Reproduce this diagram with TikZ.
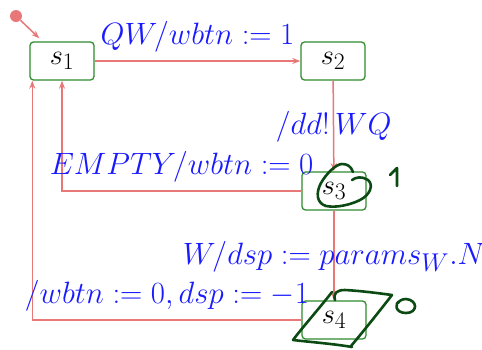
\documentclass[tikz,border=0pt]{standalone}
\usetikzlibrary{arrows.meta,calc}
\definecolor{edgered}{HTML}{E87878}
\definecolor{lblblue}{HTML}{1A1AFF}
\definecolor{boxgreen}{HTML}{2E8B2E}
\definecolor{inkgreen}{HTML}{0B4A12}
\begin{document}
\begin{tikzpicture}[x=1pt,y=-1pt,
  statebox/.style={draw=boxgreen,line width=1.3pt,rounded corners=3.5pt,scale=1.14,transform shape,minimum width=56.1pt,minimum height=33.3pt,inner sep=0pt,font=\fontsize{24.88}{28}\selectfont},
  edge/.style={draw=edgered,line width=1.5pt,-{Stealth[length=8pt,width=6pt]}},
  lbl/.style={text=lblblue,font=\fontsize{24.88}{28}\selectfont,scale=1.24,transform shape,inner sep=0pt,anchor=base},
  hlbl/.style={lbl,yshift=13pt},
  vlbl/.style={lbl,yshift=-7pt},
  ink/.style={draw=inkgreen,line width=2.6pt,line cap=round,line join=round}]
\useasboundingbox (0,0) rectangle (482,349);
\node[statebox] (s1) at (62,61) {$s_1$};
\node[statebox] (s2) at (333,61) {$s_2$};
\node[statebox] (s3) at (334,191) {$s_3$};
\node[statebox] (s4) at (334,320) {$s_4$};
\node[circle,fill=edgered,inner sep=0pt,minimum size=12pt] (init) at (16,16) {};
\coordinate (s1in) at ($(s1.north west)+(10,-3)$);
\draw[edge] (init) -- (s1in);
\draw[edge] (s1) -- node[hlbl] {$QW/wbtn := 1$} (s2);
\draw[edge] (s2) -- node[vlbl] {$/dd!\,WQ$} (s3);
\draw[edge] (s3.west) -| node[hlbl,pos=0.25] {$EMPTY/wbtn := 0$} (s1.south);
\draw[edge] (s3) -- node[vlbl] {$W/dsp := params_W.N$} (s4);
\coordinate (s1l) at ($(s1.south west)+(3,0)$);
\draw[edge] (s4.west) -| node[hlbl,pos=0.25] {$/wbtn := 0, dsp := -1$} (s1l);
% hand-drawn marks
\draw[ink] (353,172) .. controls (351,166) and (347,164) .. (342,164)
  .. controls (336,164) and (326,174) .. (321,183)
  .. controls (316,192) and (316,203) .. (326,206)
  .. controls (336,208) and (350,205) .. (360,200)
  .. controls (370,195) and (374,185) .. (368,180)
  .. controls (362,176) and (356,177) .. (352,180);
\draw[ink] (390,175) -- (397,168) -- (397,186);
\draw[ink] (332,292) .. controls (322,305) and (302,328) .. (293,340)
  .. controls (310,342) and (335,344) .. (352,347);
\draw[ink] (335,300) .. controls (333,293) and (337,290) .. (345,290)
  .. controls (362,291) and (377,293) .. (392,295)
  .. controls (378,313) and (362,333) .. (351,346);
\draw[ink] (400,301) .. controls (394,303) and (395,313) .. (406,313)
  .. controls (418,313) and (418,300) .. (406,299)
  .. controls (402,299) and (399,301) .. (398,303);
\end{tikzpicture}
\end{document}
